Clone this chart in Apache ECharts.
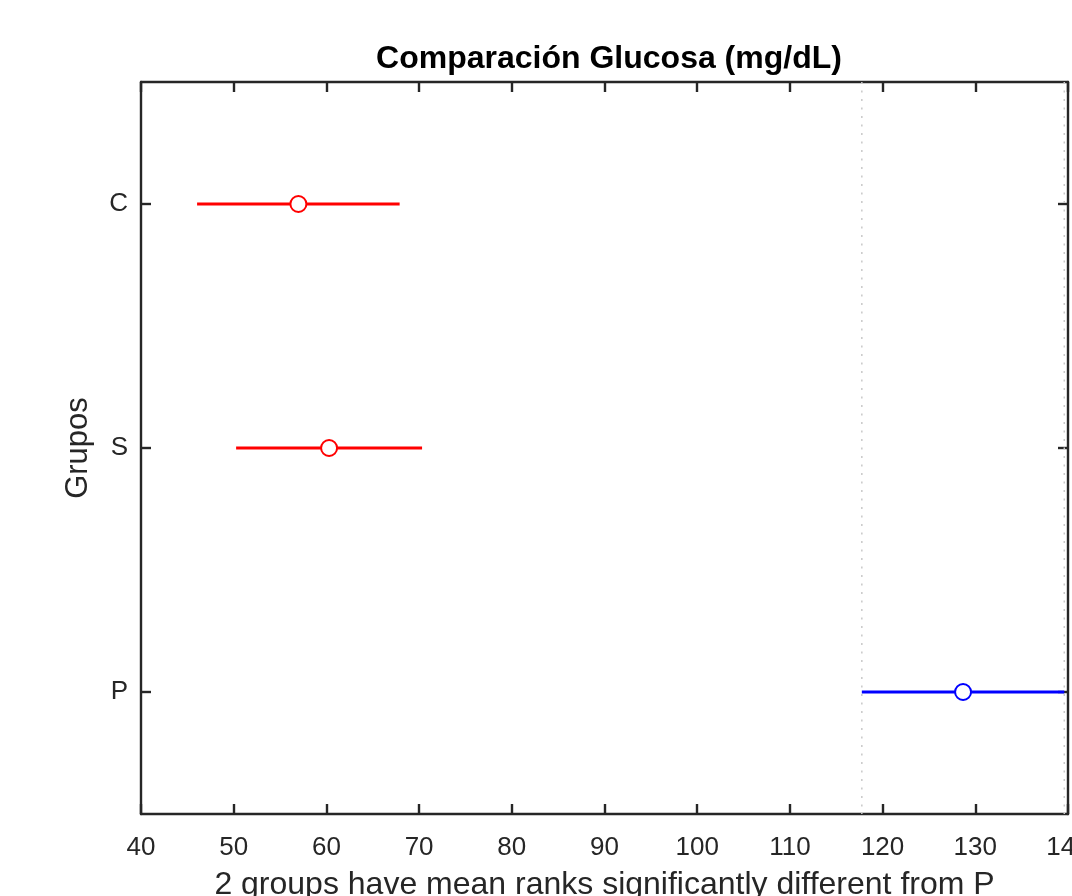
<!DOCTYPE html>
<html>
<head>
<meta charset="utf-8">
<script src="https://cdn.jsdelivr.net/npm/echarts@6/dist/echarts.min.js"></script>
<style>
html,body{margin:0;padding:0;background:#fff;}
#chart{width:1072px;height:896px;}
</style>
</head>
<body>
<div id="chart"></div>
<script>
// Groups, bottom to top
const groups = ['P', 'S', 'C'];
const means = [128.68, 60.29, 56.98];
const lows = [117.76, 50.26, 46.05];
const highs = [139.6, 70.32, 67.9];
const groupColors = ['#0000ff', '#ff0000', '#ff0000'];
const refGroup = 'P';
const xTicks = { min: 40, max: 140, interval: 10 };
const titleText = 'Comparación Glucosa (mg/dL)';
const xLabel = '2 groups have mean ranks significantly different from P';
const yLabel = 'Grupos';

const FONT = 'Liberation Sans, Arial, Helvetica, sans-serif';
const AX = '#262626';

const data = groups.map((g, i) => [lows[i], highs[i], means[i], i]);

const chart = echarts.init(document.getElementById('chart'));
const axisCommon = {
  axisLine: { show: true, onZero: false, lineStyle: { color: AX, width: 2.4 } },
  axisTick: { show: true, inside: true, length: 10, lineStyle: { color: AX, width: 2.4 } },
  splitLine: { show: false }
};
const catTick = { show: true, inside: true, length: 10, alignWithLabel: true, lineStyle: { color: AX, width: 2.4 } };
chart.setOption({
  animation: false,
  backgroundColor: '#ffffff',
  title: {
    text: titleText,
    left: 604, top: 38, textAlign: 'center',
    textStyle: { fontFamily: FONT, fontWeight: 'bold', fontSize: 32, color: '#000' }
  },
  grid: { left: 141, right: 4, top: 82, bottom: 82, containLabel: false, outerBoundsMode: 'none' },
  xAxis: [
    Object.assign({
      type: 'value', position: 'bottom', min: xTicks.min, max: xTicks.max, interval: xTicks.interval,
      name: xLabel, nameLocation: 'middle', nameGap: 55,
      nameTextStyle: { fontFamily: FONT, fontSize: 32, color: AX },
      axisLabel: { fontFamily: FONT, fontSize: 26, color: AX, margin: 21, showMaxLabel: true, showMinLabel: true }
    }, axisCommon),
    Object.assign({
      type: 'value', position: 'top', min: xTicks.min, max: xTicks.max, interval: xTicks.interval,
      axisLabel: { show: false }
    }, axisCommon)
  ],
  yAxis: [
    Object.assign({
      type: 'category', position: 'left', data: groups, boundaryGap: true,
      name: yLabel, nameLocation: 'middle', nameGap: 47, nameRotate: 90,
      nameTextStyle: { fontFamily: FONT, fontSize: 31, color: AX },
      axisLabel: { fontFamily: FONT, fontSize: 26, color: AX, margin: 13 }
    }, axisCommon, { axisTick: catTick }),
    Object.assign({
      type: 'category', position: 'right', data: groups, boundaryGap: true,
      axisLabel: { show: false }
    }, axisCommon, { axisTick: catTick })
  ],
  series: [{
    type: 'custom',
    xAxisIndex: 0, yAxisIndex: 0,
    data: data,
    encode: { x: [0, 1, 2], y: 3 },
    clip: true,
    renderItem: function (params, api) {
      const i = api.value(3);
      const lo = api.value(0), hi = api.value(1), m = api.value(2);
      const cs = params.coordSys;
      const pLo = api.coord([lo, i]);
      const pHi = api.coord([hi, i]);
      const pM = api.coord([m, i]);
      const color = groupColors[i];
      const children = [];
      if (groups[i] === refGroup) {
        [pLo[0], pHi[0]].forEach(function (x) {
          children.push({
            type: 'line', silent: true,
            shape: { x1: x, y1: cs.y, x2: x, y2: cs.y + cs.height },
            style: { stroke: '#c8c8c8', lineWidth: 1.5, lineDash: [2, 6.5] }
          });
        });
      }
      children.push({
        type: 'line',
        shape: { x1: pLo[0], y1: pLo[1], x2: pHi[0], y2: pHi[1] },
        style: { stroke: color, lineWidth: 3 }
      });
      children.push({
        type: 'circle',
        shape: { cx: pM[0], cy: pM[1], r: 8 },
        style: { fill: '#ffffff', stroke: color, lineWidth: 2 }
      });
      return { type: 'group', children: children };
    }
  }]
});
</script>
</body>
</html>
